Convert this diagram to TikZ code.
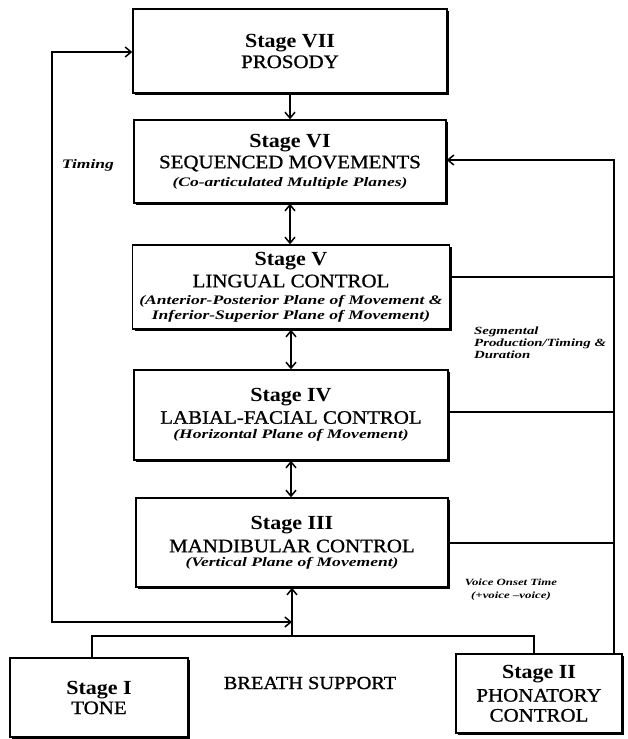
\documentclass[tikz,border=0pt]{standalone}
\usepackage{fontspec}
\setmainfont{Liberation Serif}
\newfontfamily\mainf[FakeStretch=1.1]{Liberation Serif}
\newfontfamily\capf[FakeStretch=1.1,FakeBold=1]{Liberation Serif}
\newfontfamily\subf[FakeStretch=1.35]{Liberation Serif}
\usetikzlibrary{arrows.meta,shadows}
\newcommand\stg[1]{{\bfseries #1}}
\newcommand\cp[1]{{\capf\fontsize{19}{21}\selectfont #1}}
\newcommand\sbt[1]{{\subf\bfseries\itshape\fontsize{13}{14}\selectfont #1}}
\tikzset{
  box/.style={draw, line width=1.4pt, fill=white, inner sep=0pt, align=center,
    font=\mainf\fontsize{20}{21}\selectfont,
    drop shadow={shadow xshift=2.2pt, shadow yshift=-2.2pt, opacity=1, fill=black}},
  conn/.style={line width=1.5pt},
  arr/.style={conn, -{Straight Barb[length=6pt,width=10pt,line width=1.5pt]}},
  darr/.style={conn, {Straight Barb[length=6pt,width=10pt,line width=1.5pt]}-{Straight Barb[length=6pt,width=10pt,line width=1.5pt]}},
  lbl/.style={font=\subf\bfseries\itshape\fontsize{11}{12}\selectfont, inner sep=0pt},
}
\begin{document}
\begin{tikzpicture}[x=1pt,y=-1pt]
\useasboundingbox (0,0) rectangle (627,739);
% stage boxes
\node[box, minimum width=314pt, minimum height=84pt] (vii) at (290,51)
  {\stg{Stage VII}\\[0pt]\cp{PROSODY}};
\node[box, minimum width=312pt, minimum height=83pt] (vi) at (290,161.5)
  {\stg{Stage VI}\\[0pt]\cp{SEQUENCED MOVEMENTS}\\[-3pt]\sbt{(Co-articulated Multiple Planes)}};
\node[box, minimum width=317pt, minimum height=84pt] (v) at (291,287)
  {\stg{Stage V}\\[1pt]\cp{LINGUAL CONTROL}\\[-4pt]\sbt{(Anterior-Posterior Plane of Movement \&}\\[-6pt]\sbt{Inferior-Superior Plane of Movement)}};
\node[box, minimum width=314pt, minimum height=90pt] (iv) at (291,415)
  {\stg{Stage IV}\\[1pt]\cp{LABIAL-FACIAL CONTROL}\\[-6pt]\sbt{(Horizontal Plane of Movement)}};
\node[box, minimum width=312pt, minimum height=89pt] (iii) at (292,542.5)
  {\stg{Stage III}\\[2pt]\cp{MANDIBULAR CONTROL}\\[-7pt]\sbt{(Vertical Plane of Movement)}};
\node[box, minimum width=178pt, minimum height=79pt] (i) at (99,697.5)
  {\stg{Stage I}\\[-1pt]\cp{TONE}};
\node[box, minimum width=166pt, minimum height=79pt] (ii) at (539,693.5)
  {\stg{Stage II}\\[2pt]\cp{PHONATORY}\\[-1pt]\cp{CONTROL}};
% labels
\node[lbl, anchor=base, font=\subf\bfseries\itshape\fontsize{13}{14}\selectfont] (timing) at (88,168) {Timing};
\node[lbl, anchor=north west, align=left] (seg) at (474,327)
  {Segmental\\Production/Timing \&\\Duration};
\node[lbl, anchor=north, align=center, font=\subf\bfseries\itshape\fontsize{9.5}{13}\selectfont] (vot) at (511,579)
  {Voice Onset Time\\(+voice –voice)};
\node[inner sep=0pt, font=\capf\fontsize{18.5}{20}\selectfont] (breath) at (310,683) {BREATH SUPPORT};
% central arrows
\draw[arr] (vii.south) -- (vi.north);
\draw[darr] (vi.south) -- (vi.south |- v.north);
\draw[darr] (v.south) -- (v.south |- iv.north);
\draw[darr] (iv.south) -- (iv.south |- iii.north);
% breath support junction
\coordinate (jL) at (92,636);
\coordinate (jR) at (534,636);
\coordinate (jC) at (iii.south |- jL);
\draw[conn] (i.north -| jL) -- (jL) -- (jR) -- (ii.north -| jR);
\draw[arr] (jC) -- (iii.south);
% left timing loop
\coordinate (lb) at (52,622);
\coordinate (lt) at (52,52);
\draw[darr] (iii.south |- lb) -- (lb) -- (lt) -- (lt -| vii.west);
% right segmental loop
\coordinate (r6) at (614,160);
\coordinate (r5) at (614,277);
\coordinate (r4) at (614,412);
\coordinate (r3) at (614,543);
\draw[arr] (ii.north -| r6) -- (r6) -- (r6 -| vi.east);
\draw[conn] (r5 -| v.east) -- (r5);
\draw[conn] (r4 -| iv.east) -- (r4);
\draw[conn] (r3 -| iii.east) -- (r3);
\end{tikzpicture}
\end{document}
